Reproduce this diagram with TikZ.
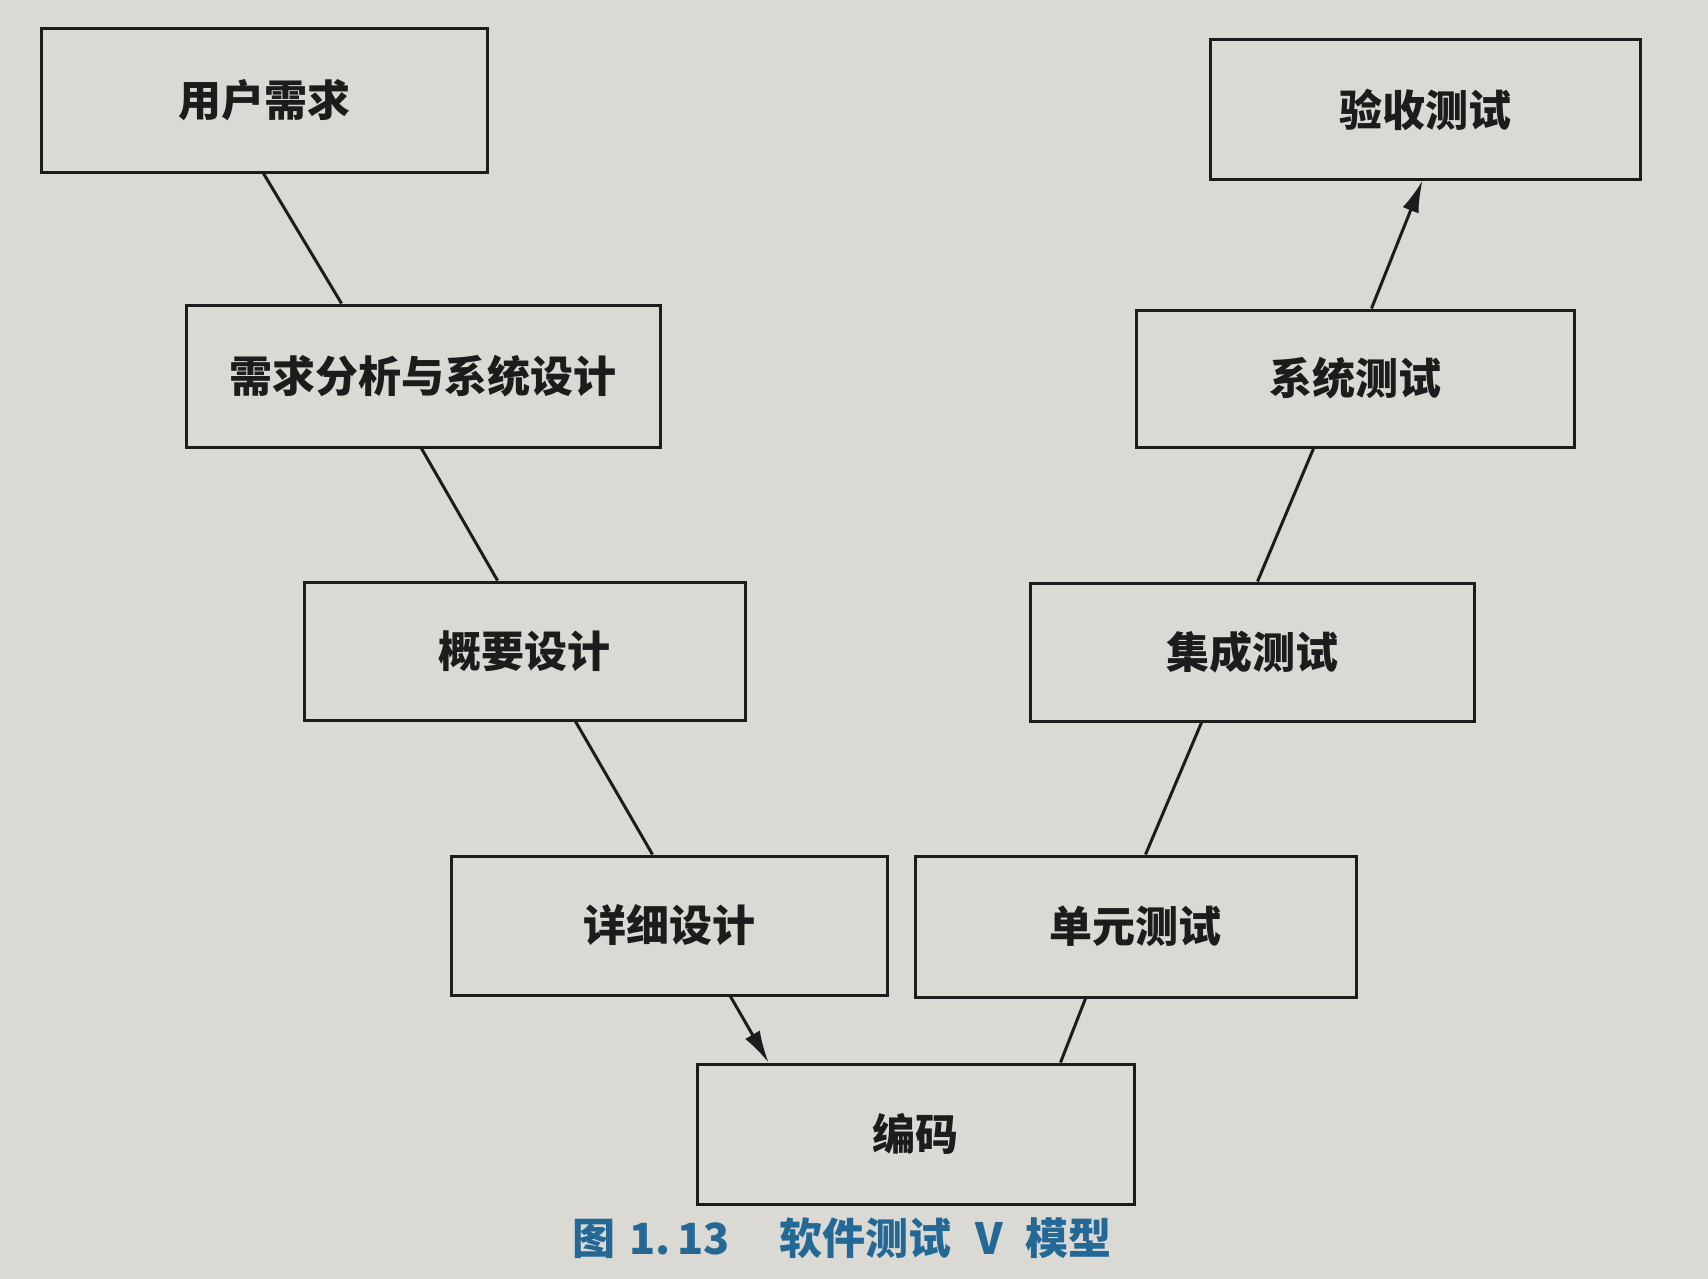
\documentclass[tikz,border=0pt]{standalone}
\usepackage{fontspec}
\newfontfamily\cjk{Noto Sans CJK SC}
\usetikzlibrary{arrows.meta}
\definecolor{paper}{RGB}{218,217,212}
\definecolor{ink}{RGB}{28,28,28}
\definecolor{capblue}{RGB}{36,104,150}
\tikzset{
  box/.style={draw=ink, line width=3pt, fill=paper, text=ink, inner sep=0pt,
    font=\cjk\bfseries\fontsize{43}{49}\selectfont},
  link/.style={draw=ink, line width=3pt},
  arr/.style={link, -{Latex[length=32pt,width=17pt]}},
}
\begin{document}
\begin{tikzpicture}[x=1pt,y=-1pt]
\fill[paper] (0,0) rectangle (1708,1279);
\useasboundingbox (0,0) rectangle (1708,1279);
\node[box, minimum width=446pt, minimum height=143pt] (A) at (264,100.5) {用户需求};
\node[box, minimum width=474pt, minimum height=142pt] (B) at (423,376) {需求分析与系统设计};
\node[box, minimum width=441pt, minimum height=138pt] (C) at (524.5,651) {概要设计};
\node[box, minimum width=436pt, minimum height=139pt] (D) at (669,925.5) {详细设计};
\node[box, minimum width=437pt, minimum height=140pt] (E) at (915.5,1134) {编码};
\node[box, minimum width=441pt, minimum height=141pt] (F) at (1135.5,926.5) {单元测试};
\node[box, minimum width=444pt, minimum height=138pt] (G) at (1252,652) {集成测试};
\node[box, minimum width=438pt, minimum height=137pt] (H) at (1355,378.5) {系统测试};
\node[box, minimum width=430pt, minimum height=139pt] (I) at (1425,109.5) {验收测试};
\draw[link] ([xshift=224pt]A.south west) -- ([xshift=157pt]B.north west);
\draw[link] ([xshift=237pt]B.south west) -- ([xshift=195pt]C.north west);
\draw[link] ([xshift=273pt]C.south west) -- ([xshift=203pt]D.north west);
\draw[arr] ([xshift=281pt]D.south west) -- ([xshift=73pt]E.north west);
\draw[link] ([xshift=365pt]E.north west) -- ([xshift=172pt]F.south west);
\draw[link] ([xshift=232pt]F.north west) -- ([xshift=173pt]G.south west);
\draw[link] ([xshift=229pt]G.north west) -- ([xshift=179pt]H.south west);
\draw[arr] ([xshift=237pt]H.north west) -- ([xshift=214pt]I.south west);
\node[anchor=west, inner sep=0pt, text=capblue, font=\cjk\bfseries\fontsize{43}{49}\selectfont] (cap) at (572,1238) {图\hspace{14pt}1.\hspace{7pt}13\hspace{50pt}软件测试\hspace{24pt}V\hspace{22pt}模型};
\end{tikzpicture}
\end{document}
